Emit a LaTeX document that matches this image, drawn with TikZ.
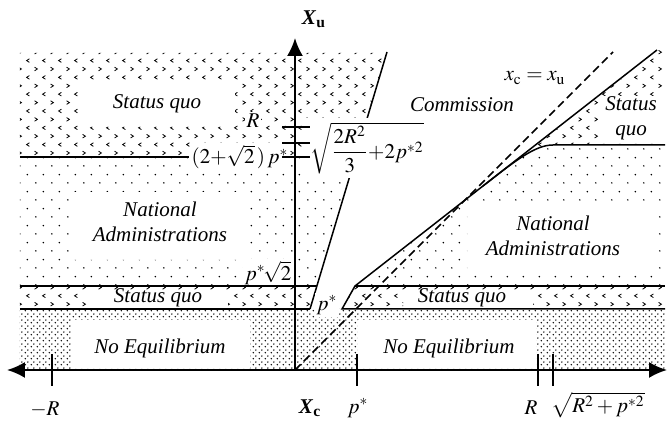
\documentclass[tikz,border=0pt]{standalone}
\usepackage{amsmath}
\usepackage{mathptmx}
\usepackage{fontspec}
\setmainfont{Liberation Serif}
\usetikzlibrary{arrows.meta,patterns}

% shadings of the three kinds of region
\pgfdeclarepatternformonly{sq chevrons}{\pgfqpoint{-0.5pt}{-0.5pt}}{\pgfqpoint{8.5pt}{9pt}}{\pgfqpoint{8pt}{8.4pt}}{
  \pgfsetlinewidth{0.4pt}
  \pgfpathmoveto{\pgfqpoint{1.3pt}{3pt}}
  \pgfpathlineto{\pgfqpoint{2.7pt}{2.1pt}}
  \pgfpathlineto{\pgfqpoint{1.3pt}{1.2pt}}
  \pgfpathmoveto{\pgfqpoint{6.7pt}{7.2pt}}
  \pgfpathlineto{\pgfqpoint{5.3pt}{6.3pt}}
  \pgfpathlineto{\pgfqpoint{6.7pt}{5.4pt}}
  \pgfusepath{stroke}
}
\pgfdeclarepatternformonly{admin dots}{\pgfqpoint{0pt}{0pt}}{\pgfqpoint{8pt}{8.6pt}}{\pgfqpoint{8pt}{8.6pt}}{
  \pgfpathcircle{\pgfqpoint{2pt}{2.15pt}}{0.45pt}
  \pgfpathcircle{\pgfqpoint{6pt}{6.45pt}}{0.45pt}
  \pgfusepath{fill}
}
\pgfdeclarepatternformonly{noeq dots}{\pgfqpoint{0pt}{0pt}}{\pgfqpoint{3pt}{3pt}}{\pgfqpoint{3pt}{3pt}}{
  \pgfpathcircle{\pgfqpoint{0.75pt}{0.75pt}}{0.45pt}
  \pgfpathcircle{\pgfqpoint{2.25pt}{2.25pt}}{0.45pt}
  \pgfusepath{fill}
}

\begin{document}
\begin{tikzpicture}[x=10pt,y=10pt,
    >={Latex[length=9pt,width=8pt]},
    mlbl/.style={font=\fontsize{10.5}{12.5}\selectfont},
    lbl/.style={mlbl, font=\fontsize{10.5}{12.5}\selectfont\itshape, align=center},
    wlbl/.style={mlbl, fill=white, inner sep=1pt},
    bound/.style={line width=0.75pt},
    axis/.style={line width=1pt}]
	\useasboundingbox (-14.75,-2.8) rectangle (18.65,18.5);
	% key points
	\coordinate (O) at (0,0);
	\coordinate (sb) at (0.75,3.05);
	\coordinate (st) at (4.6,15.9);
	\coordinate (kb) at (2.35,3.05);
	\coordinate (kt) at (3.0,4.2);
	\coordinate (dt) at (18.1,16.0);
	\coordinate (cs) at (9.4,9.2);
	\coordinate (ce) at (12.9,11.25);
	% shaded regions, with room left for the labels
	\fill[pattern=sq chevrons, even odd rule] (-13.75,15.85) -- (4.6,15.85) -- (3.03,10.65) -- (-13.75,10.65) -- cycle (-10.75,14.35) rectangle (-3,12.15);
	\fill[pattern=admin dots, even odd rule] (-13.75,10.65) -- (3.03,10.65) -- (1.09,4.2) -- (-13.75,4.2) -- cycle (-11.15,8.9) rectangle (-2.25,5.5);
	\fill[pattern=sq chevrons, even odd rule] (-13.75,4.2) -- (1.09,4.2) -- (sb) -- (-13.75,3.05) -- cycle (-10.35,3.95) rectangle (-3.35,3.1);
	\fill[pattern=noeq dots, even odd rule] (-13.75,3.05) rectangle (18.5,0) (-11.15,2.5) rectangle (-2.25,0.05) (3.1,2.5) rectangle (12.05,0.05);
	\fill[pattern=sq chevrons, even odd rule] (kb) -- (kt) -- (18.5,4.2) -- (18.5,3.05) -- cycle (5.4,3.95) rectangle (11.9,3.1);
	\fill[pattern=admin dots, even odd rule] (kt) -- (cs) .. controls (11.0,10.45) and (12.0,11.25) .. (ce) -- (18.5,11.25) -- (18.5,4.2) -- cycle (8.6,8.25) rectangle (18.0,5.0);
	\fill[pattern=sq chevrons, even odd rule] (cs) .. controls (11.0,10.45) and (12.0,11.25) .. (ce) -- (18.5,11.25) -- (18.5,16.0) -- (dt) -- cycle (15.3,13.7) rectangle (18.45,11.3);
	% steep boundary, partly hidden by its label
	\draw[bound] (sb) -- (st);
	% threshold labels
	\node[wlbl] (tR) at (-2.1,12.45) {$R$};
	\node[wlbl] (t2p) at (-2.75,10.65) {$(2{+}\sqrt{2}\,)\,p^{*}$};
	\node[wlbl, inner sep=2pt] (tsq) at (3.6,11.1) {$\sqrt{\dfrac{2R^{2}}{3}{+}2p^{*2}}$};
	\node[wlbl] (tp2) at (-1.35,4.85) {$p^{*}\!\sqrt{2}$};
	\node[wlbl] (tp) at (1.6,3.25) {$p^{*}$};
	% region labels
	\node[lbl] (sqA) at (-6.9,13.3) {Status quo};
	\node[lbl] (naL) at (-6.75,7.4) {National\\Administrations};
	\node[lbl] (sqL) at (-6.85,3.6) {Status quo};
	\node[lbl] (neL) at (-6.75,1.1) {No Equilibrium};
	\node[lbl] (com) at (8.35,13.25) {Commission};
	\node[mlbl] (diag) at (12.0,14.6) {$x_{\mathrm{c}} = x_{\mathrm{u}}$};
	\node[lbl] (sqR) at (16.8,12.6) {Status\\quo};
	\node[lbl] (naR) at (12.9,6.7) {National\\Administrations};
	\node[lbl] (sqS) at (8.35,3.6) {Status quo};
	\node[lbl] (neR) at (7.7,1.1) {No Equilibrium};
	% boundaries
	\draw[bound] (-13.75,10.65) -- (t2p.west);
	\draw[bound] (-13.75,4.2) -- (1.09,4.2);
	\draw[bound] (-13.75,3.05) -- (sb);
	\draw[bound] (18.5,3.05) -- (kb) -- (kt) -- (dt);
	\draw[bound] (kt) -- (18.5,4.2);
	\draw[bound] (cs) .. controls (11.0,10.45) and (12.0,11.25) .. (ce) -- (18.5,11.25);
	\draw[bound, dash pattern=on 4pt off 2.2pt] (O) -- (15.9,15.9);
	% ticks
	\foreach \y in {12.15,11.35,10.65}
		\draw[bound] (-0.65,\y) -- (0.75,\y);
	\foreach \x in {-12.15,3.1,12.15,12.9}
		\draw[bound] (\x,0.8) -- (\x,-0.8);
	% axes
	\draw[axis,<->] (-14.4,0) -- (18.6,0);
	\draw[axis,->] (O) -- (0,16.6);
	\node[mlbl] (Xu) at (0.95,17.55) {\textbf{\textit{X}}$_{\textbf{u}}$};
	\node[mlbl] (Xc) at (0.75,-1.9) {\textbf{\textit{X}}$_{\textbf{c}}$};
	\node[mlbl] (mR) at (-12.5,-2.0) {$-R$};
	\node[mlbl] (xp) at (3.15,-1.9) {$p^{*}$};
	\node[mlbl] (xR) at (11.8,-1.9) {$R$};
	\node[mlbl] (xs) at (15.15,-1.75) {$\sqrt{R^{2}+p^{*2}}$};
\end{tikzpicture}
\end{document}
